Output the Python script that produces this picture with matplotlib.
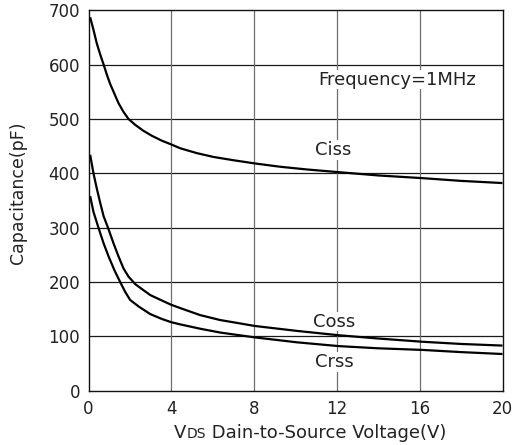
import matplotlib
matplotlib.use("Agg")
import matplotlib.pyplot as plt

# Data
vds_ciss = [0.08, 0.24, 0.40, 0.57, 0.73, 0.89, 1.05, 1.21, 1.45, 1.69, 1.93, 2.26, 2.66,
            3.06, 3.54, 4.0, 4.43, 5.24, 6.04, 7.0, 8.05, 9.26, 10.55, 12.1, 14.0, 16.15, 18.0, 20.0]
ciss = [687, 664, 639, 618, 600, 581, 564, 550, 529, 513, 500, 489, 478,
        469, 460, 453, 446, 437, 430, 424, 418, 412, 407, 402, 396, 391, 386, 382]

vds_coss = [0.08, 0.24, 0.40, 0.57, 0.73, 0.94, 1.21, 1.45, 1.69, 1.93, 2.26, 2.58, 2.98,
            3.54, 4.0, 4.43, 5.40, 6.36, 8.05, 10.07, 12.1, 14.0, 16.15, 18.0, 20.0]
coss = [434, 400, 372, 345, 321, 300, 271, 247, 225, 210, 196, 187, 176,
        166, 158, 152, 139, 130, 119, 110, 102, 96, 90, 86, 83]

vds_crss = [0.08, 0.24, 0.48, 0.73, 0.97, 1.26, 1.53, 1.77, 2.01, 2.42, 2.98, 3.54, 4.0,
            4.43, 5.40, 6.36, 8.05, 10.07, 12.1, 14.0, 16.15, 18.0, 20.0]
crss = [358, 329, 300, 271, 247, 221, 200, 182, 167, 155, 141, 132, 126,
        122, 114, 107, 98, 89, 82, 78, 75, 71, 67.5]

x_ticks = [0, 4, 8, 12, 16, 20]
y_ticks = [0, 100, 200, 300, 400, 500, 600, 700]

W, H = 517, 445
fig = plt.figure(figsize=(W / 100, H / 100), dpi=100)
plt.rcParams['font.family'] = ['DejaVu Sans']
ax = fig.add_axes([88.5 / W, (H - 390.7) / H, (502.5 - 88.5) / W, (390.7 - 10.2) / H])

ax.set_xlim(0, 20)
ax.set_ylim(0, 700)
ax.set_xticks(x_ticks)
ax.set_yticks(y_ticks)
ax.tick_params(length=0, labelsize=12, colors='#222222', pad=6)
ax.tick_params(axis='x', pad=7)

for v in y_ticks[1:-1]:
    ax.axhline(v, color='#1a1a1a', lw=0.9, zorder=1)
for v in x_ticks[1:-1]:
    ax.axvline(v, color='#6e6e6e', lw=0.9, zorder=1)

for s in ax.spines.values():
    s.set_color('#111111')
    s.set_linewidth(1.0)

for xs, ys in [(vds_ciss, ciss), (vds_coss, coss), (vds_crss, crss)]:
    ax.plot(xs, ys, color='black', lw=1.6, zorder=3, solid_capstyle='butt',
            solid_joinstyle='round')

bb = dict(facecolor='white', edgecolor='none', pad=0.5)
ax.text(11.1, 572, 'Frequency=1MHz', fontsize=13, color='#222222', va='center', ha='left', bbox=bb, zorder=4)
ax.text(10.95, 443, 'Ciss', fontsize=13, color='#222222', va='center', ha='left', bbox=bb, zorder=4)
ax.text(10.84, 127, 'Coss', fontsize=13, color='#222222', va='center', ha='left', bbox=bb, zorder=4)
ax.text(10.95, 53, 'Crss', fontsize=13, color='#222222', va='center', ha='left', bbox=bb, zorder=4)

fig.text(18 / W, 1 - 193 / H, 'Capacitance(pF)', rotation=90, fontsize=12.5,
         color='#222222', ha='center', va='center')

# x label: "V" + small "DS" + rest, baseline aligned
fig.canvas.draw()
r = fig.canvas.get_renderer()
base_y = 1 - 438 / H
parts = [('V', 13), ('DS', 10), (' Dain-to-Source Voltage(V)', 13)]
objs = []
for s, fs in parts:
    t = fig.text(0, base_y, s, fontsize=fs, color='#222222', ha='left', va='baseline')
    objs.append(t)
widths = [t.get_window_extent(r).width for t in objs]
total = sum(widths)
x0 = 310 - total / 2
for t, w in zip(objs, widths):
    t.set_x(x0 / W)
    x0 += w

fig.savefig('out.png', dpi=100, facecolor='white')
